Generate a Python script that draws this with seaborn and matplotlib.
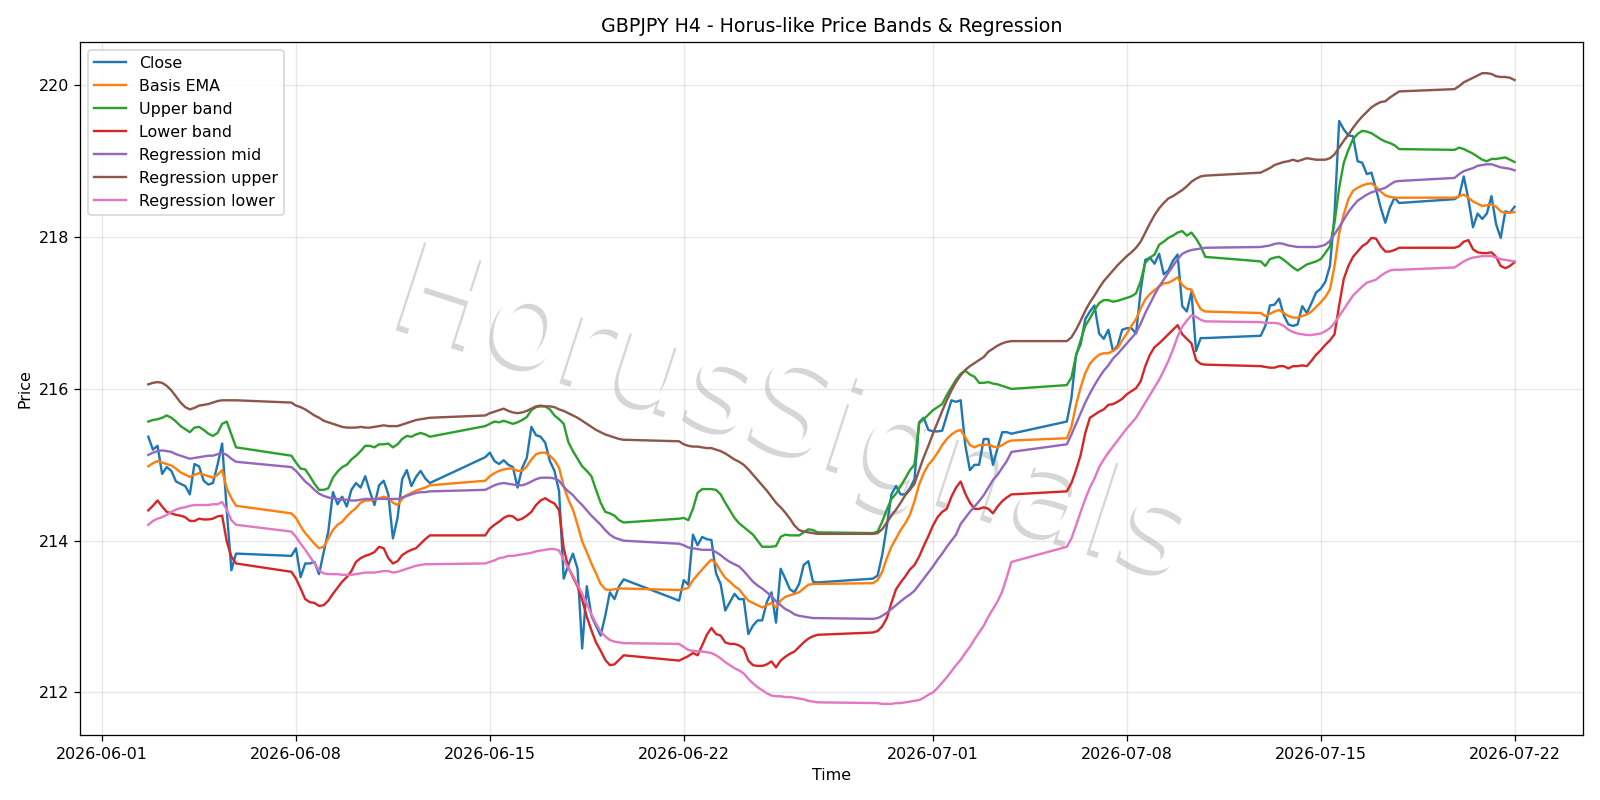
import matplotlib
matplotlib.use("Agg")
import matplotlib.pyplot as plt
import matplotlib.patheffects as pe
import numpy as np
import pandas as pd
import seaborn as sns

# H4 bars: weekdays plus the Sunday 20:00 bar, 2026-06-02 16:00 .. 2026-07-22 00:00
bars = pd.date_range("2026-06-02 16:00", "2026-07-22 00:00", freq="4h")
bars = bars[(bars.dayofweek < 5) | ((bars.dayofweek == 6) & (bars.hour == 20))]

close = [
    215.37, 215.20, 215.25, 214.88, 214.97, 214.92, 214.78, 214.75, 214.72, 214.61,
    215.01, 214.98, 214.79, 214.74, 214.76, 215.00, 215.28, 214.40, 213.61, 213.83,
    213.80, 213.90, 213.52, 213.70, 213.70, 213.72, 213.56, 213.85, 214.12, 214.64, 214.48, 214.58, 214.45,
    214.67, 214.76, 214.70, 214.85, 214.65, 214.47, 214.73, 214.79, 214.61, 214.03, 214.30, 214.81,
    214.93, 214.72, 214.84, 214.92, 214.82, 214.76,
    215.10, 215.16, 215.05, 215.01, 215.06, 215.00, 214.97, 214.70, 214.96, 215.09, 215.50, 215.39, 215.37,
    215.29, 215.05, 214.92, 214.65, 213.50, 213.68, 213.83, 213.63, 212.58, 213.40, 213.01, 212.88,
    212.75, 213.01, 213.32, 213.23, 213.40, 213.49,
    213.21, 213.48, 213.42, 214.08, 213.94, 214.05, 214.02, 214.01, 213.57, 213.43, 213.08, 213.19, 213.30,
    213.23, 213.23, 212.77, 212.88, 212.95, 212.95, 213.19, 213.32, 212.92, 213.63, 213.50, 213.36,
    213.32, 213.43, 213.68, 213.73, 213.46, 213.45,
    213.50, 213.54, 213.81, 214.19, 214.61, 214.72, 214.61, 214.61, 214.69, 214.81, 215.56, 215.62, 215.46,
    215.44, 215.44, 215.45, 215.65, 215.85, 215.83, 215.85, 215.26, 214.93, 215.00, 215.00, 215.34,
    215.34, 215.00, 215.22, 215.43, 215.43, 215.41,
    215.57, 215.88, 216.45, 216.59, 216.92, 217.02, 217.10, 216.73, 216.66, 216.78, 216.50, 216.57, 216.78,
    216.80, 216.80, 216.73, 217.30, 217.70, 217.73, 217.65, 217.78, 217.51, 217.56, 217.69, 217.77,
    217.09, 217.02, 217.28, 216.50, 216.67, 216.67,
    216.70, 216.83, 217.10, 217.11, 217.19, 216.97, 216.85, 216.83, 216.85, 217.09, 217.00, 217.13, 217.27,
    217.32, 217.41, 217.62, 218.30, 219.53, 219.42, 219.34, 219.33, 219.00, 218.98, 218.83, 218.85,
    218.63, 218.39, 218.19, 218.39, 218.52, 218.45,
    218.50, 218.54, 218.80, 218.50, 218.13, 218.31, 218.24, 218.31, 218.54, 218.17, 217.99, 218.34, 218.32,
    218.40,
]

basis_ema = [
    214.98, 215.02, 215.05, 215.03, 215.01, 214.99, 214.95, 214.90, 214.87, 214.84,
    214.87, 214.89, 214.87, 214.85, 214.83, 214.87, 214.93, 214.69, 214.56, 214.46,
    214.36, 214.30, 214.19, 214.10, 214.03, 213.96, 213.90, 213.92, 214.03, 214.14, 214.21, 214.25, 214.32,
    214.38, 214.43, 214.50, 214.53, 214.53, 214.54, 214.56, 214.58, 214.56, 214.50, 214.47, 214.55,
    214.60, 214.63, 214.66, 214.68, 214.70, 214.73,
    214.79, 214.85, 214.89, 214.92, 214.94, 214.95, 214.95, 214.92, 214.92, 214.98, 215.07, 215.14, 215.16,
    215.16, 215.12, 215.06, 214.96, 214.72, 214.54, 214.41, 214.21, 213.99, 213.85, 213.70, 213.57,
    213.43, 213.36, 213.35, 213.36, 213.37, 213.37,
    213.35, 213.36, 213.38, 213.48, 213.55, 213.62, 213.69, 213.75, 213.70, 213.60, 213.51, 213.46, 213.40,
    213.36, 213.28, 213.21, 213.18, 213.15, 213.12, 213.15, 213.18, 213.12, 213.21, 213.26, 213.28,
    213.30, 213.32, 213.37, 213.42, 213.43, 213.43,
    213.44, 213.48, 213.59, 213.77, 213.92, 214.03, 214.14, 214.23, 214.34, 214.52, 214.74, 214.89, 215.00,
    215.07, 215.16, 215.26, 215.34, 215.40, 215.44, 215.46, 215.36, 215.26, 215.23, 215.26, 215.26,
    215.27, 215.24, 215.23, 215.26, 215.30, 215.32,
    215.35, 215.50, 215.79, 216.02, 216.21, 216.33, 216.40, 216.45, 216.47, 216.47, 216.50, 216.54, 216.64,
    216.73, 216.83, 216.92, 217.06, 217.18, 217.25, 217.30, 217.35, 217.39, 217.40, 217.43, 217.47,
    217.37, 217.32, 217.31, 217.16, 217.05, 217.02,
    217.00, 216.96, 216.99, 217.02, 217.04, 217.00, 216.96, 216.94, 216.94, 216.96, 216.98, 217.02, 217.08,
    217.14, 217.21, 217.31, 217.62, 218.05, 218.30, 218.50, 218.61, 218.65, 218.68, 218.70, 218.71,
    218.66, 218.60, 218.55, 218.53, 218.52, 218.52,
    218.52, 218.54, 218.56, 218.52, 218.47, 218.44, 218.41, 218.42, 218.43, 218.40, 218.34, 218.32, 218.32,
    218.33,
]

upper_band = [
    215.57, 215.59, 215.60, 215.62, 215.65, 215.62, 215.57, 215.51, 215.47, 215.43,
    215.49, 215.50, 215.46, 215.41, 215.38, 215.42, 215.54, 215.57, 215.40, 215.23,
    215.12, 215.03, 214.95, 214.94, 214.85, 214.75, 214.67, 214.67, 214.69, 214.83, 214.91, 214.97, 215.00,
    215.07, 215.12, 215.18, 215.25, 215.25, 215.23, 215.27, 215.27, 215.28, 215.23, 215.27, 215.34,
    215.38, 215.37, 215.40, 215.42, 215.40, 215.37,
    215.51, 215.54, 215.57, 215.56, 215.58, 215.56, 215.54, 215.56, 215.59, 215.63, 215.72, 215.76, 215.77,
    215.77, 215.73, 215.65, 215.60, 215.54, 215.30, 215.18, 215.08, 214.98, 214.92, 214.85, 214.67,
    214.50, 214.38, 214.36, 214.33, 214.27, 214.24,
    214.29, 214.30, 214.27, 214.42, 214.63, 214.68, 214.68, 214.68, 214.67, 214.61, 214.50, 214.40, 214.30,
    214.23, 214.18, 214.13, 214.08, 214.00, 213.92, 213.92, 213.92, 213.93, 214.05, 214.08, 214.07,
    214.07, 214.07, 214.11, 214.15, 214.14, 214.11,
    214.10, 214.12, 214.25, 214.41, 214.55, 214.62, 214.72, 214.82, 214.93, 215.00, 215.55, 215.60, 215.66,
    215.72, 215.76, 215.80, 215.92, 216.02, 216.12, 216.20, 216.24, 216.19, 216.16, 216.08, 216.08,
    216.09, 216.07, 216.06, 216.04, 216.02, 216.00,
    216.05, 216.15, 216.44, 216.64, 216.83, 216.93, 217.04, 217.13, 217.17, 217.17, 217.15, 217.16, 217.18,
    217.20, 217.22, 217.26, 217.42, 217.66, 217.73, 217.77, 217.90, 217.94, 217.99, 218.02, 218.06,
    218.08, 218.02, 218.06, 217.98, 217.88, 217.74,
    217.68, 217.62, 217.71, 217.73, 217.74, 217.70, 217.65, 217.60, 217.56, 217.60, 217.64, 217.66, 217.68,
    217.71, 217.79, 217.88, 218.19, 218.65, 218.98, 219.15, 219.29, 219.36, 219.40, 219.39, 219.37,
    219.33, 219.29, 219.26, 219.24, 219.21, 219.16,
    219.15, 219.18, 219.16, 219.13, 219.10, 219.06, 219.02, 219.00, 219.03, 219.03, 219.04, 219.05, 219.02,
    218.99,
]

lower_band = [
    214.40, 214.46, 214.53, 214.45, 214.38, 214.36, 214.34, 214.33, 214.31, 214.26,
    214.26, 214.29, 214.28, 214.28, 214.29, 214.32, 214.33, 213.99, 213.79, 213.70,
    213.59, 213.50, 213.37, 213.23, 213.19, 213.18, 213.14, 213.15, 213.21, 213.30, 213.38, 213.46, 213.52,
    213.60, 213.72, 213.77, 213.80, 213.82, 213.85, 213.92, 213.90, 213.77, 213.70, 213.73, 213.81,
    213.85, 213.88, 213.90, 213.96, 214.02, 214.07,
    214.07, 214.16, 214.21, 214.25, 214.30, 214.33, 214.32, 214.27, 214.29, 214.33, 214.38, 214.47, 214.53,
    214.56, 214.52, 214.49, 214.40, 213.90, 213.65, 213.52, 213.40, 213.22, 213.00, 212.82, 212.66,
    212.55, 212.43, 212.36, 212.37, 212.43, 212.49,
    212.42, 212.45, 212.48, 212.52, 212.49, 212.62, 212.76, 212.85, 212.77, 212.75, 212.66, 212.64, 212.64,
    212.62, 212.58, 212.42, 212.36, 212.35, 212.35, 212.37, 212.41, 212.33, 212.42, 212.47, 212.51,
    212.54, 212.60, 212.66, 212.71, 212.74, 212.76,
    212.79, 212.81, 212.87, 212.98, 213.18, 213.36, 213.45, 213.53, 213.62, 213.68, 213.79, 213.93, 214.06,
    214.20, 214.31, 214.38, 214.42, 214.58, 214.70, 214.78, 214.62, 214.50, 214.42, 214.42, 214.44,
    214.42, 214.36, 214.45, 214.52, 214.57, 214.61,
    214.65, 214.76, 214.93, 215.13, 215.42, 215.62, 215.66, 215.70, 215.73, 215.79, 215.80, 215.83, 215.87,
    215.93, 215.97, 216.01, 216.10, 216.30, 216.45, 216.55, 216.60, 216.66, 216.72, 216.78, 216.84,
    216.72, 216.66, 216.60, 216.38, 216.33, 216.32,
    216.30, 216.29, 216.28, 216.28, 216.30, 216.30, 216.27, 216.30, 216.30, 216.31, 216.30, 216.37, 216.45,
    216.51, 216.58, 216.64, 216.72, 217.10, 217.45, 217.62, 217.74, 217.81, 217.88, 217.92, 217.99,
    217.98, 217.88, 217.81, 217.81, 217.83, 217.86,
    217.86, 217.88, 217.94, 217.96, 217.84, 217.80, 217.79, 217.79, 217.80, 217.74, 217.62, 217.59, 217.62,
    217.67,
]

reg_mid = [
    215.13, 215.16, 215.18, 215.19, 215.18, 215.17, 215.14, 215.12, 215.10, 215.08,
    215.09, 215.10, 215.11, 215.12, 215.12, 215.14, 215.16, 215.13, 215.08, 215.04,
    214.97, 214.92, 214.85, 214.78, 214.73, 214.67, 214.62, 214.59, 214.57, 214.56, 214.55, 214.54, 214.54,
    214.53, 214.53, 214.54, 214.55, 214.55, 214.55, 214.55, 214.55, 214.55, 214.55, 214.55, 214.57,
    214.59, 214.61, 214.63, 214.64, 214.64, 214.65,
    214.67, 214.70, 214.73, 214.75, 214.76, 214.75, 214.74, 214.73, 214.73, 214.75, 214.78, 214.81, 214.83,
    214.83, 214.83, 214.82, 214.79, 214.71, 214.65, 214.60, 214.53, 214.47, 214.40, 214.33, 214.27,
    214.21, 214.14, 214.08, 214.04, 214.02, 214.00,
    213.96, 213.94, 213.91, 213.90, 213.89, 213.88, 213.88, 213.88, 213.85, 213.81, 213.76, 213.72, 213.69,
    213.66, 213.60, 213.53, 213.46, 213.41, 213.37, 213.32, 213.27, 213.20, 213.15, 213.10, 213.07,
    213.03, 213.01, 213.00, 212.99, 212.98, 212.98,
    212.97, 212.98, 213.01, 213.05, 213.10, 213.15, 213.20, 213.25, 213.29, 213.34, 213.42, 213.50, 213.58,
    213.66, 213.75, 213.83, 213.92, 214.00, 214.08, 214.22, 214.30, 214.38, 214.45, 214.52, 214.60,
    214.70, 214.80, 214.87, 214.96, 215.05, 215.17,
    215.27, 215.40, 215.54, 215.68, 215.82, 215.94, 216.05, 216.15, 216.24, 216.31, 216.40, 216.46, 216.53,
    216.60, 216.67, 216.74, 216.86, 217.00, 217.12, 217.24, 217.35, 217.44, 217.53, 217.62, 217.71,
    217.78, 217.81, 217.83, 217.84, 217.85, 217.86,
    217.87, 217.88, 217.89, 217.91, 217.92, 217.91, 217.89, 217.88, 217.87, 217.87, 217.87, 217.87, 217.87,
    217.88, 217.90, 217.95, 218.04, 218.13, 218.23, 218.33, 218.41, 218.48, 218.52, 218.56, 218.59,
    218.61, 218.63, 218.65, 218.69, 218.73, 218.74,
    218.78, 218.83, 218.87, 218.89, 218.91, 218.94, 218.95, 218.96, 218.96, 218.94, 218.92, 218.91, 218.90,
    218.88,
]

reg_upper = [
    216.06, 216.08, 216.09, 216.08, 216.04, 215.98, 215.90, 215.82, 215.76, 215.73,
    215.75, 215.78, 215.79, 215.80, 215.82, 215.84, 215.85, 215.85, 215.85, 215.85,
    215.82, 215.78, 215.76, 215.73, 215.69, 215.65, 215.62, 215.58, 215.56, 215.54, 215.52, 215.50, 215.49,
    215.49, 215.49, 215.50, 215.49, 215.49, 215.50, 215.51, 215.52, 215.51, 215.51, 215.51, 215.53,
    215.55, 215.57, 215.59, 215.60, 215.61, 215.62,
    215.65, 215.68, 215.70, 215.72, 215.74, 215.71, 215.69, 215.68, 215.69, 215.71, 215.74, 215.77, 215.78,
    215.77, 215.77, 215.76, 215.73, 215.71, 215.68, 215.65, 215.62, 215.58, 215.54, 215.50, 215.46,
    215.43, 215.40, 215.38, 215.36, 215.34, 215.33,
    215.31, 215.27, 215.25, 215.24, 215.24, 215.23, 215.22, 215.22, 215.20, 215.18, 215.15, 215.11, 215.07,
    215.04, 215.00, 214.94, 214.87, 214.80, 214.73, 214.66, 214.58, 214.50, 214.44, 214.37, 214.29,
    214.20, 214.14, 214.12, 214.11, 214.10, 214.09,
    214.09, 214.10, 214.15, 214.24, 214.33, 214.41, 214.50, 214.60, 214.67, 214.75, 214.93, 215.10, 215.25,
    215.41, 215.56, 215.71, 215.85, 215.98, 216.09, 216.18, 216.25, 216.30, 216.34, 216.38, 216.42,
    216.49, 216.53, 216.57, 216.60, 216.62, 216.63,
    216.63, 216.68, 216.78, 216.90, 217.03, 217.14, 217.23, 217.33, 217.42, 217.49, 217.56, 217.63, 217.69,
    217.75, 217.80, 217.86, 217.94, 218.06, 218.18, 218.29, 218.38, 218.45, 218.51, 218.54, 218.58,
    218.62, 218.67, 218.73, 218.77, 218.80, 218.81,
    218.85, 218.88, 218.91, 218.95, 218.97, 218.99, 219.00, 219.02, 219.00, 219.02, 219.04, 219.03, 219.02,
    219.02, 219.02, 219.04, 219.09, 219.18, 219.27, 219.35, 219.44, 219.52, 219.59, 219.65, 219.71,
    219.75, 219.78, 219.79, 219.84, 219.88, 219.92,
    219.95, 219.99, 220.04, 220.07, 220.10, 220.13, 220.16, 220.16, 220.15, 220.12, 220.11, 220.11, 220.10,
    220.07,
]

reg_lower = [
    214.21, 214.26, 214.29, 214.31, 214.34, 214.38, 214.41, 214.43, 214.44, 214.46,
    214.47, 214.47, 214.47, 214.47, 214.48, 214.48, 214.51, 214.41, 214.27, 214.21,
    214.12, 214.05, 213.96, 213.88, 213.79, 213.70, 213.61, 213.57, 213.56, 213.56, 213.56, 213.55, 213.55,
    213.55, 213.56, 213.57, 213.58, 213.58, 213.58, 213.59, 213.60, 213.60, 213.58, 213.59, 213.61,
    213.63, 213.65, 213.67, 213.68, 213.69, 213.69,
    213.70, 213.72, 213.74, 213.77, 213.78, 213.80, 213.80, 213.81, 213.82, 213.83, 213.84, 213.86, 213.87,
    213.88, 213.89, 213.89, 213.87, 213.75, 213.64, 213.54, 213.42, 213.30, 213.17, 213.03, 212.91,
    212.80, 212.74, 212.69, 212.67, 212.66, 212.65,
    212.64, 212.60, 212.56, 212.55, 212.54, 212.54, 212.53, 212.52, 212.49, 212.45, 212.40, 212.36, 212.32,
    212.29, 212.25, 212.18, 212.12, 212.07, 212.03, 211.99, 211.96, 211.95, 211.95, 211.94, 211.94,
    211.93, 211.92, 211.91, 211.89, 211.88, 211.87,
    211.86, 211.86, 211.85, 211.85, 211.85, 211.86, 211.86, 211.87, 211.88, 211.89, 211.90, 211.93, 211.97,
    212.00, 212.06, 212.13, 212.20, 212.28, 212.36, 212.43, 212.52, 212.60, 212.70, 212.79, 212.88,
    213.00, 213.10, 213.20, 213.33, 213.52, 213.72,
    213.92, 214.03, 214.20, 214.38, 214.55, 214.70, 214.82, 214.97, 215.07, 215.16, 215.24, 215.32, 215.40,
    215.48, 215.55, 215.62, 215.72, 215.82, 215.92, 216.02, 216.12, 216.24, 216.37, 216.52, 216.69,
    216.82, 216.90, 216.97, 216.95, 216.91, 216.89,
    216.88, 216.87, 216.87, 216.87, 216.86, 216.83, 216.78, 216.75, 216.73, 216.72, 216.71, 216.71, 216.72,
    216.73, 216.76, 216.80, 216.87, 216.96, 217.05, 217.14, 217.23, 217.29, 217.35, 217.40, 217.42,
    217.44, 217.49, 217.53, 217.56, 217.57, 217.57,
    217.60, 217.64, 217.68, 217.71, 217.73, 217.74, 217.75, 217.75, 217.75, 217.73, 217.71, 217.70, 217.69,
    217.68,
]

series = {
    "Close": close,
    "Basis EMA": basis_ema,
    "Upper band": upper_band,
    "Lower band": lower_band,
    "Regression mid": reg_mid,
    "Regression upper": reg_upper,
    "Regression lower": reg_lower,
}

fig, ax = plt.subplots(figsize=(14, 7), dpi=1600 / 14)

for i, (name, vals) in enumerate(series.items()):
    df = pd.DataFrame({"time": bars, "price": vals})
    sns.lineplot(data=df, x="time", y="price", ax=ax, label=name,
                 color=f"C{i}", linewidth=1.5)

# watermark
ax.text(0.474, 0.46, "HorusSignals", transform=ax.transAxes, fontsize=80,
        rotation=-18, ha="center", va="center", color="white", zorder=1,
        path_effects=[pe.SimplePatchShadow(offset=(-2.5, -3), shadow_rgbFace="gray", alpha=0.32),
                      pe.Normal()])

ax.set_title("GBPJPY H4 - Horus-like Price Bands & Regression")
ax.set_xlabel("Time")
ax.set_ylabel("Price")
ax.grid(True, alpha=0.3)
ax.legend(loc="upper left")
fig.tight_layout()
fig.savefig("out.png", dpi=1600 / 14)
